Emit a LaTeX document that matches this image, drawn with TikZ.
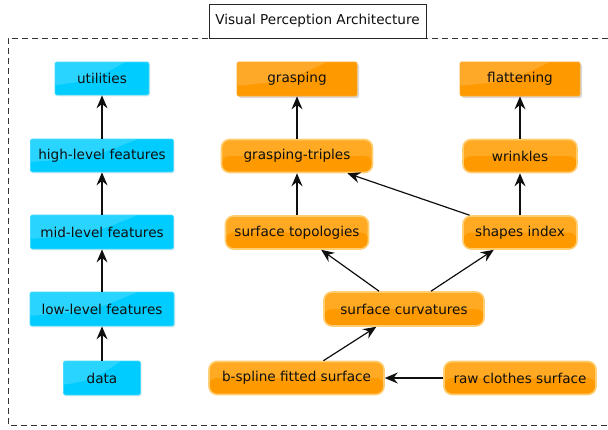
\documentclass[tikz,border=0pt]{standalone}
\usepackage{fontspec}
\setmainfont{DejaVu Sans}
\usetikzlibrary{arrows.meta,shadows,calc}

\definecolor{cyanfill}{RGB}{0,204,255}
\definecolor{cyanedge}{RGB}{70,218,255}
\definecolor{orangefill}{RGB}{255,153,0}
\definecolor{orangetop}{RGB}{255,170,34}
\definecolor{orangeedge}{RGB}{255,206,115}
\definecolor{ink}{RGB}{15,15,15}

\tikzset{
  base/.style={inner sep=0pt, font=\fontsize{13.6}{15}\selectfont, text=ink},
  gloss/.style={path picture={
      \fill[white,opacity=0.16]
        (path picture bounding box.north west)
        -- ($(path picture bounding box.north west)!0.75!(path picture bounding box.north east)$)
        .. controls ($(path picture bounding box.center)+(-10pt,-2pt)$)
        .. ($(path picture bounding box.north west)!0.7!(path picture bounding box.south west)$)
        -- cycle;}},
  cyanbox/.style={base, rounded corners=1.5pt, fill=cyanfill, draw=cyanedge,
      line width=0.8pt, gloss,
      drop shadow={shadow xshift=1.5pt, shadow yshift=-1.5pt, opacity=0.12}},
  goalbox/.style={base, rounded corners=1.5pt, fill=orangefill, draw=orangefill!85!white,
      line width=0.8pt, gloss,
      drop shadow={shadow xshift=2pt, shadow yshift=-2pt, opacity=0.3}},
  procbox/.style={base, rounded corners=8pt, fill=orangetop, draw=orangeedge,
      line width=1.6pt,
      path picture={\fill[orangefill] (path picture bounding box.west)
                     rectangle (path picture bounding box.south east);}},
  titlebox/.style={base, draw=black!85, fill=white, line width=0.8pt},
  link/.style={-{Stealth[length=13pt,width=11pt,inset=4.5pt]}, line width=1.2pt, draw=ink},
  frame/.style={draw=black!80, line width=0.8pt, dash pattern=on 6pt off 4pt}
}

\begin{document}
\begin{tikzpicture}[x=1pt,y=-1pt]
  \useasboundingbox (0,0) rectangle (608,429);

  % dashed enclosure, open at the right edge
  \draw[frame] (608,38) -| (8,425) -- (608,425);

  \node[titlebox, minimum width=217, minimum height=34] (title) at (317.5,21)
    {Visual Perception Architecture};

  % generic pipeline
  \node[cyanbox, minimum width=94,  minimum height=33] (util) at (102,78.5) {utilities};
  \node[cyanbox, minimum width=143, minimum height=33] (high) at (102,155.5) {high-level features};
  \node[cyanbox, minimum width=143, minimum height=34] (mid)  at (102,232) {mid-level features};
  \node[cyanbox, minimum width=144, minimum height=34] (low)  at (102,309) {low-level features};
  \node[cyanbox, minimum width=77,  minimum height=34] (data) at (102,378) {data};

  % clothes pipeline
  \node[goalbox, minimum width=120, minimum height=34] (grasp) at (297,79) {grasping};
  \node[goalbox, minimum width=120, minimum height=34] (flat)  at (520,79) {flattening};
  \node[procbox, minimum width=151, minimum height=33] (triples) at (297,156) {grasping-triples};
  \node[procbox, minimum width=114, minimum height=33] (wrink)   at (520,156) {wrinkles};
  \node[procbox, minimum width=143, minimum height=33] (topo)    at (297,232.5) {surface topologies};
  \node[procbox, minimum width=114, minimum height=33] (shapes)  at (520,232.5) {shapes index};
  \node[procbox, minimum width=160, minimum height=34] (curv)    at (404,309) {surface curvatures};
  \node[procbox, minimum width=175, minimum height=33] (bspline) at (296.5,378) {b-spline fitted surface};
  \node[procbox, minimum width=152, minimum height=33] (raw)     at (520,378) {raw clothes surface};

  % connectors
  \draw[link] (data) -- (low);
  \draw[link] (low) -- (mid);
  \draw[link] (mid) -- (high);
  \draw[link] (high) -- (util);

  \draw[link] (raw) -- (bspline);
  \draw[link] (bspline) -- (curv);
  \draw[link] (curv) -- (topo);
  \draw[link] (curv) -- (shapes);
  \draw[link] (topo) -- (triples);
  \draw[link] (shapes) -- (triples);
  \draw[link] (shapes) -- (wrink);
  \draw[link] (triples) -- (grasp);
  \draw[link] (wrink) -- (flat);
\end{tikzpicture}
\end{document}
